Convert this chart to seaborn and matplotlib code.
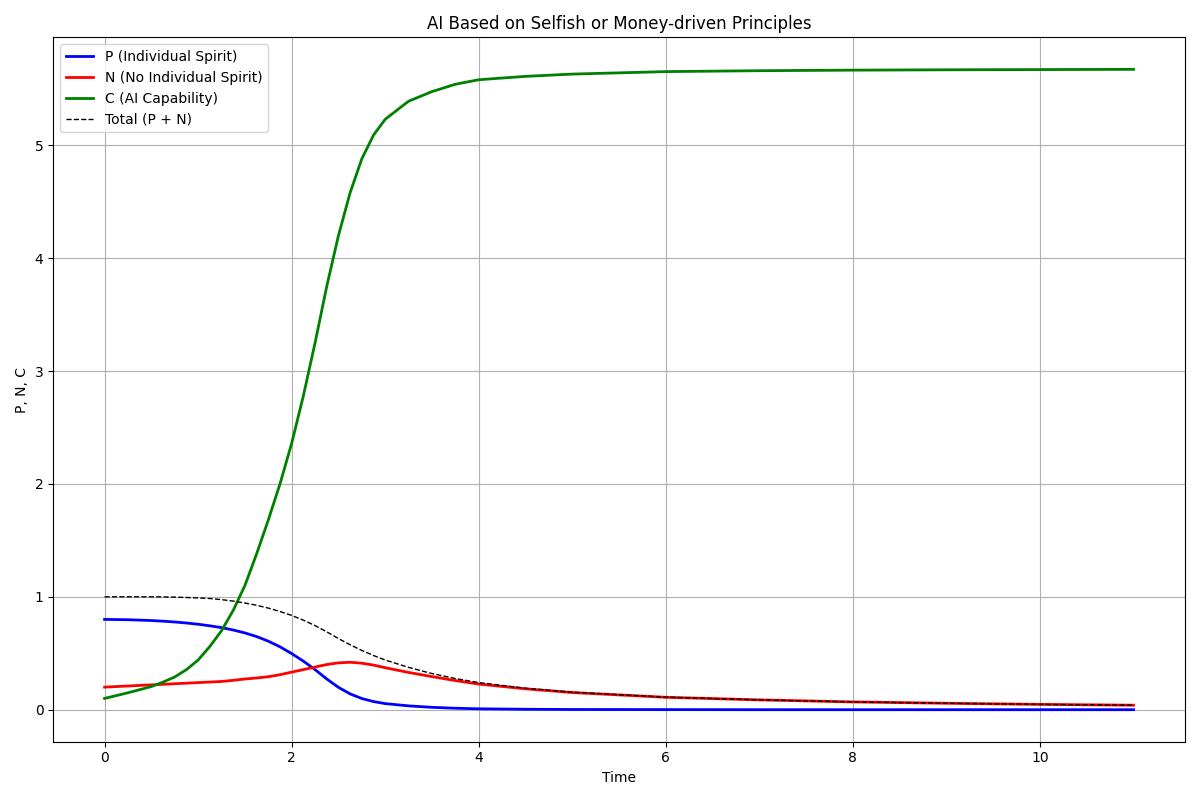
import numpy as np
import pandas as pd
import matplotlib
matplotlib.use("Agg")
import matplotlib.pyplot as plt
import seaborn as sns

# 그림에서 읽어낸 값 (시간별)
time = [0, 0.25, 0.5, 0.625, 0.75, 0.875, 1.0, 1.125, 1.25, 1.375, 1.5, 1.625, 1.75, 1.875,
        2.0, 2.125, 2.25, 2.375, 2.5, 2.625, 2.75, 2.875, 3.0, 3.25, 3.5, 3.75,
        4.0, 4.5, 5, 6, 7, 8, 9, 10, 11]

p_vals = [0.80, 0.797, 0.79, 0.784, 0.777, 0.768, 0.757, 0.743, 0.727, 0.706, 0.68, 0.648, 0.607, 0.557,
          0.497, 0.43, 0.355, 0.272, 0.198, 0.14, 0.099, 0.072, 0.054, 0.034, 0.021, 0.013,
          0.008, 0.004, 0.002, 0.001, 0.0, 0.0, 0.0, 0.0, 0.0]

n_vals = [0.20, 0.21, 0.22, 0.225, 0.23, 0.235, 0.24, 0.245, 0.25, 0.26, 0.272, 0.281, 0.292, 0.31,
          0.333, 0.355, 0.378, 0.40, 0.415, 0.42, 0.412, 0.395, 0.372, 0.33, 0.293, 0.258,
          0.227, 0.185, 0.152, 0.11, 0.087, 0.069, 0.057, 0.047, 0.04]

c_vals = [0.10, 0.15, 0.205, 0.245, 0.29, 0.355, 0.44, 0.56, 0.70, 0.88, 1.10, 1.38, 1.68, 2.00,
          2.36, 2.78, 3.25, 3.75, 4.20, 4.58, 4.88, 5.09, 5.23, 5.39, 5.475, 5.54,
          5.58, 5.61, 5.63, 5.652, 5.66, 5.665, 5.668, 5.67, 5.672]

total_vals = [1.0, 1.0, 1.0, 0.999, 0.997, 0.994, 0.99, 0.985, 0.975, 0.962, 0.945, 0.925, 0.90, 0.87,
              0.835, 0.793, 0.745, 0.69, 0.63, 0.575, 0.525, 0.48, 0.44, 0.375, 0.32, 0.276,
              0.24, 0.19, 0.155, 0.111, 0.087, 0.069, 0.057, 0.047, 0.04]

plt.style.use("default")

df = pd.DataFrame({"t": time, "P": p_vals, "N": n_vals, "C": c_vals, "Total": total_vals})

fig, ax = plt.subplots(figsize=(12, 8), dpi=100)

sns.lineplot(data=df, x="t", y="P", ax=ax, color="blue", linewidth=2, label="P (Individual Spirit)")
sns.lineplot(data=df, x="t", y="N", ax=ax, color="red", linewidth=2, label="N (No Individual Spirit)")
sns.lineplot(data=df, x="t", y="C", ax=ax, color="green", linewidth=2, label="C (AI Capability)")
sns.lineplot(data=df, x="t", y="Total", ax=ax, color="black", linewidth=1, linestyle="--", label="Total (P + N)")

ax.set_title("AI Based on Selfish or Money-driven Principles")
ax.set_xlabel("Time")
ax.set_ylabel("P, N, C")
ax.grid(True)
ax.legend(loc="upper left")

plt.tight_layout()
plt.savefig("out.png", dpi=100)
plt.close()
